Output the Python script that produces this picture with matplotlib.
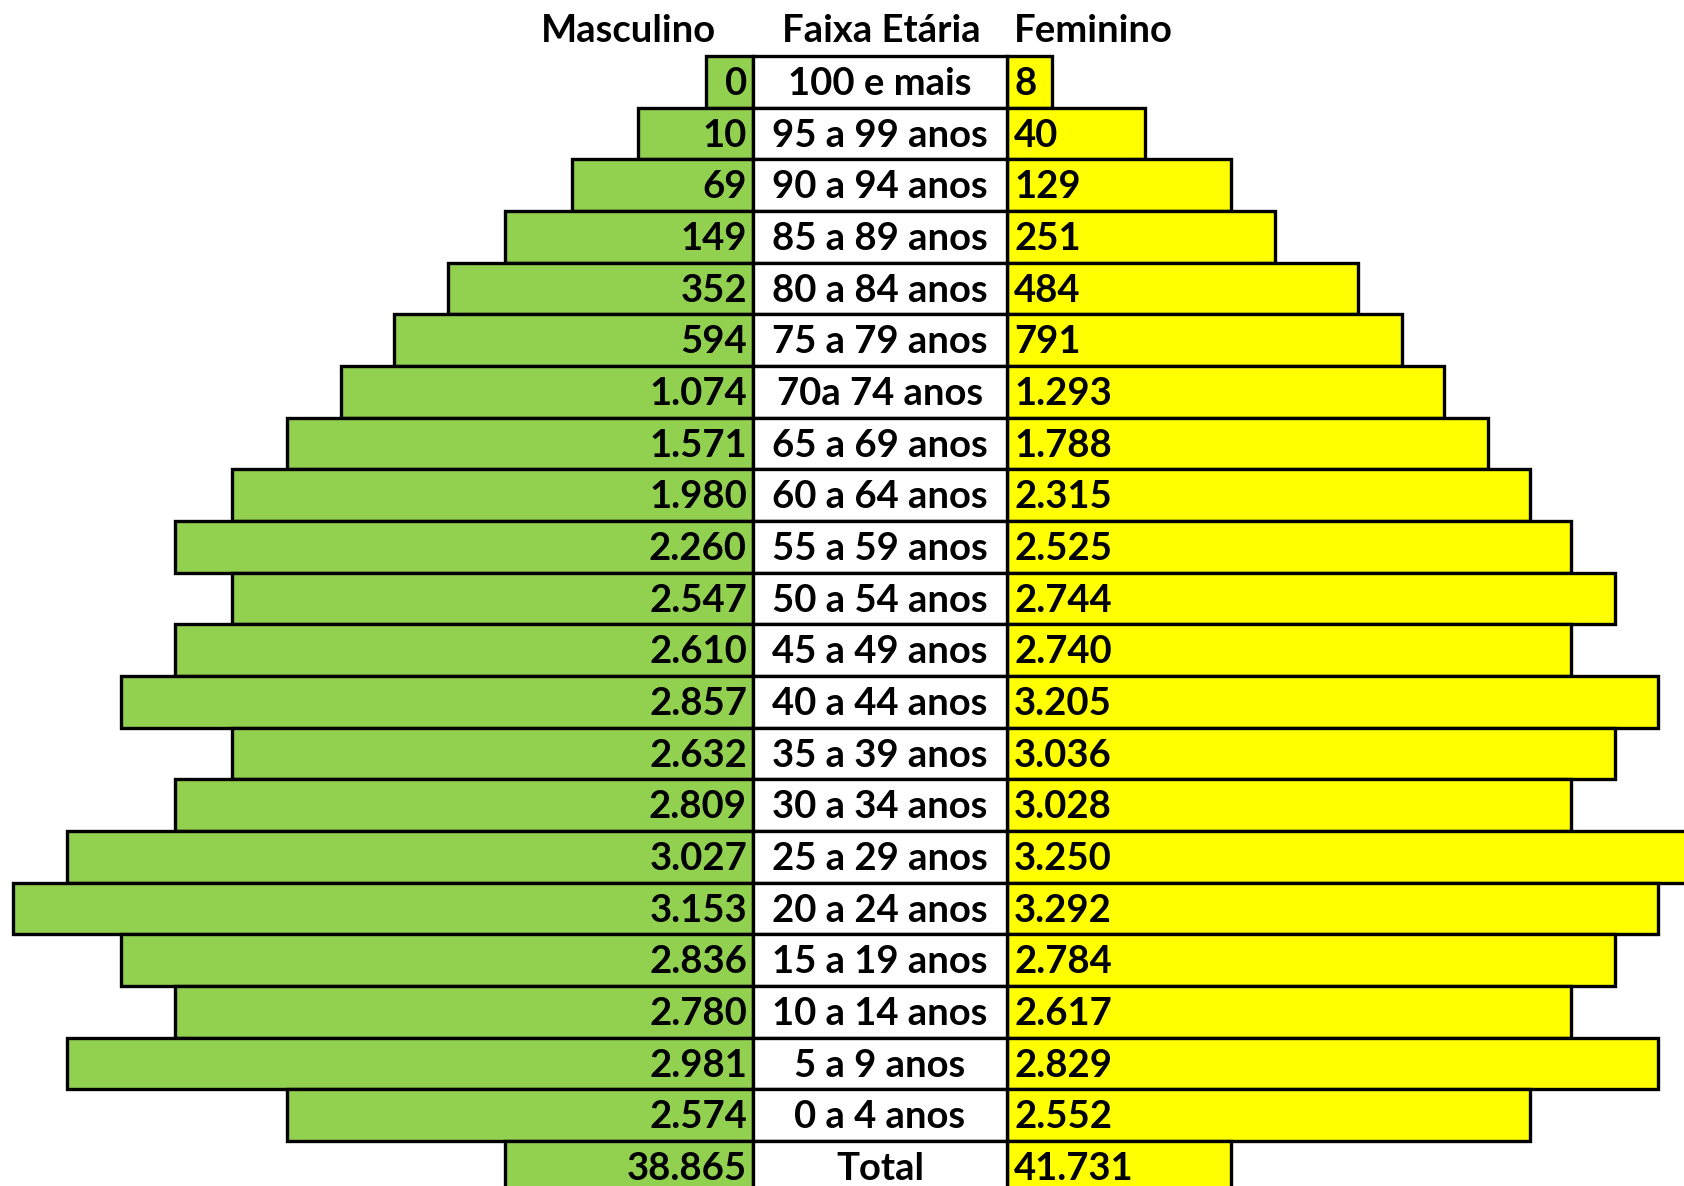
import matplotlib
matplotlib.use("Agg")
import matplotlib.pyplot as plt

# age groups, top row first
faixas = [
    "100 e mais", "95 a 99 anos", "90 a 94 anos", "85 a 89 anos",
    "80 a 84 anos", "75 a 79 anos", "70a 74 anos", "65 a 69 anos",
    "60 a 64 anos", "55 a 59 anos", "50 a 54 anos", "45 a 49 anos",
    "40 a 44 anos", "35 a 39 anos", "30 a 34 anos", "25 a 29 anos",
    "20 a 24 anos", "15 a 19 anos", "10 a 14 anos", "5 a 9 anos",
    "0 a 4 anos", "Total",
]
masculino = [
    "0", "10", "69", "149", "352", "594", "1.074", "1.571", "1.980",
    "2.260", "2.547", "2.610", "2.857", "2.632", "2.809", "3.027",
    "3.153", "2.836", "2.780", "2.981", "2.574", "38.865",
]
feminino = [
    "8", "40", "129", "251", "484", "791", "1.293", "1.788", "2.315",
    "2.525", "2.744", "2.740", "3.205", "3.036", "3.028", "3.250",
    "3.292", "2.784", "2.617", "2.829", "2.552", "41.731",
]
# bar extents as drawn in the sheet (cell shading, not to scale with values)
barra_masc = [47, 115, 181, 248, 305, 359, 412, 466, 521, 578, 521,
              578, 632, 521, 578, 686, 740, 632, 578, 686, 466, 248]
barra_fem = [45, 138, 224, 268, 351, 395, 437, 481, 523, 564, 608,
             564, 651, 608, 564, 700, 651, 608, 564, 651, 523, 224]

W, H = 1684, 1186
fig = plt.figure(figsize=(W / 100, H / 100), dpi=100)
ax = fig.add_axes([0, 0, 1, 1])
ax.set_xlim(0, W)
ax.set_ylim(H, 0)
ax.axis("off")

verde = "#92D050"
amarelo = "#FFFF00"
fonte = dict(family=["Lato", "DejaVu Sans"], fontweight="bold", fontsize=27.5)

centro_esq = 753
centro_dir = 1007
topo = 56
alt = 51.67
ys = [topo + alt * i + alt / 2 for i in range(len(faixas))]
lw = 2.4

ax.barh(ys, barra_masc, left=[centro_esq - b for b in barra_masc],
        height=alt, color=verde, edgecolor="black", linewidth=lw)
ax.barh(ys, barra_fem, left=centro_dir, height=alt,
        color=amarelo, edgecolor="black", linewidth=lw)
ax.barh(ys, [centro_dir - centro_esq] * len(ys), left=centro_esq,
        height=alt, color="white", edgecolor="black", linewidth=lw)

for y, f, m, fe in zip(ys, faixas, masculino, feminino):
    ax.text(centro_esq - 6, y + 2, m, ha="right", va="center", **fonte)
    ax.text((centro_esq + centro_dir) / 2, y + 2, f, ha="center",
            va="center", **fonte)
    ax.text(centro_dir + 7, y + 2, fe, ha="left", va="center", **fonte)

# header row
ax.text(628, 31, "Masculino", ha="center", va="center", **fonte)
ax.text(881, 31, "Faixa Etária", ha="center", va="center", **fonte)
ax.text(1014, 31, "Feminino", ha="left", va="center", **fonte)

fig.savefig("out.png", dpi=100)
